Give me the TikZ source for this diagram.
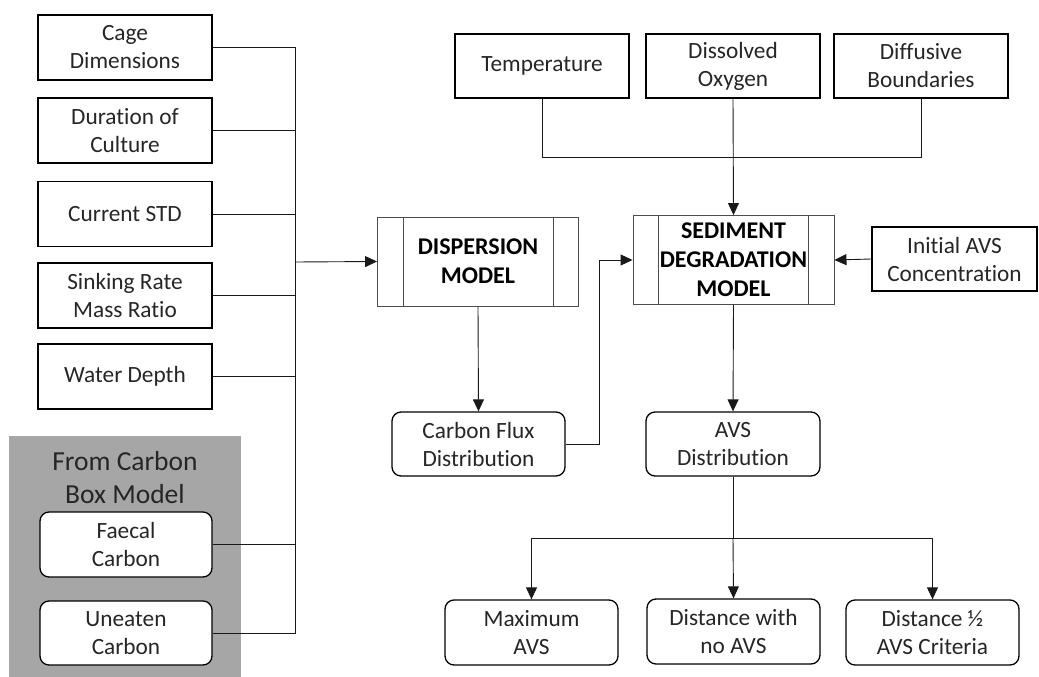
\documentclass[tikz,border=0pt]{standalone}
\usepackage{fontspec}
\setmainfont{Carlito}[Ligatures={NoCommon,NoContextual}]
\usetikzlibrary{arrows.meta}
\definecolor{panelgray}{HTML}{A6A6A6}
\definecolor{ink}{HTML}{262626}
\begin{document}
\begin{tikzpicture}[x=1pt,y=-1pt,
  every node/.style={font=\fontsize{23.3}{28}\selectfont, text=ink, align=center, inner sep=0pt},
  inbox/.style={draw=black, line width=1.5pt, fill=white, minimum width=174pt, minimum height=65pt},
  outbox/.style={draw=black, line width=1.3pt, fill=white, rounded corners=9pt, minimum width=173pt, minimum height=65pt},
  modelbox/.style={draw=black!70, line width=0.9pt, fill=white, minimum width=201pt, minimum height=89pt,
    font=\fontsize{24}{29}\selectfont\bfseries, text=black},
  modelline/.style={draw=black!70, line width=0.9pt},
  link/.style={draw=black!90, line width=0.9pt},
  arr/.style={link, -{Triangle[width=11pt,length=12pt]}},
]
\useasboundingbox (0,0) rectangle (1039,677);

% panel holding the carbon box model outputs
\fill[panelgray] (9,436) rectangle (241,677);
\node[font=\fontsize{27.5}{33}\selectfont] (paneltitle) at (125,478) {From Carbon\\Box Model};

% inputs to the dispersion model
\node[inbox] (cage)  at (125,47.5)  {Cage\\Dimensions};
\node[inbox] (dur)   at (125,130.5) {Duration of\\Culture};
\node[inbox] (curr)  at (125,214)   {Current STD};
\node[inbox] (sink)  at (125,295.5) {Sinking Rate\\Mass Ratio};
\node[inbox] (depth) at (125,376.5) {Water Depth};
\node[outbox, minimum width=172pt] (faecal)  at (126,544.5) {Faecal\\Carbon};
\node[outbox, minimum width=172pt, minimum height=64pt] (uneaten) at (126,633) {Uneaten\\Carbon};

% models
\node[modelbox] (disp) at (478,261.5) {DISPERSION\\MODEL};
\node[modelbox] (sed)  at (733.5,260) {SEDIMENT\\DEGRADATION\\MODEL};
\foreach \m in {disp,sed}{
  \draw[modelline] ([xshift=26pt]\m.north west) -- ([xshift=26pt]\m.south west);
  \draw[modelline] ([xshift=-26pt]\m.north east) -- ([xshift=-26pt]\m.south east);
}

% inputs to the sediment model
\node[inbox, minimum height=64pt] (temp) at (542,66) {Temperature};
\node[inbox, minimum height=64pt] (oxy)  at (733,66) {Dissolved\\Oxygen};
\node[inbox, minimum height=64pt] (diff) at (921,66) {Diffusive\\Boundaries};
\node[inbox, minimum width=165pt, minimum height=64pt] (init) at (954.5,259) {Initial AVS\\Concentration};

% intermediate results
\node[outbox, minimum height=64pt] (flux) at (478.5,444) {Carbon Flux\\Distribution};
\node[outbox, minimum width=174pt, minimum height=64pt] (avs) at (733,444) {AVS\\Distribution};

% final outputs
\node[outbox] (maxavs)  at (531.5,632.5) {Maximum\\AVS};
\node[outbox] (noavs)   at (733.5,631.5) {Distance with\\no AVS};
\node[outbox] (halfavs) at (932.5,632.5) {Distance ½\\AVS Criteria};

% collector bus on the left
\coordinate (bus) at (295,262);
\foreach \n in {cage,dur,curr,sink,depth,faecal,uneaten}{
  \draw[link] (\n.east) -| (bus);
}
\draw[arr] (bus) -- (disp.west);

% dispersion model to carbon flux to sediment model
\draw[arr] (disp.south) -- (flux.north);
\coordinate (jog) at (599,444);
\draw[arr] (flux.east) -- (jog) |- (sed.west);

% environmental inputs
\coordinate (envbus) at (733,157);
\draw[link] (temp.south) |- (envbus);
\draw[link] (diff.south) |- (envbus);
\draw[arr] (oxy.south) -- (sed.north);
\draw[arr] (init.west) -- (sed.east);

% sediment model to outputs
\draw[arr] (sed.south) -- (avs.north);
\coordinate (split) at (733,538);
\draw[link] (avs.south) -- (split);
\draw[arr] (split) -| (maxavs.north);
\draw[arr] (split) -| (halfavs.north);
\draw[arr] (split) -- (noavs.north);
\end{tikzpicture}
\end{document}
